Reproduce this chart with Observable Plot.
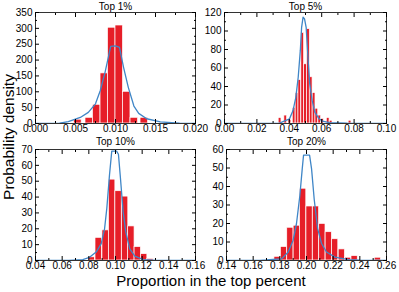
<!DOCTYPE html>
<html><head><meta charset="utf-8">
<script src="https://cdn.jsdelivr.net/npm/d3@7"></script>
<script src="https://cdn.jsdelivr.net/npm/@observablehq/plot@0.6"></script>
<style>
body{margin:0;background:#fff;}
#chart{position:relative;width:399px;height:292px;font-family:"Liberation Sans",Arial,Helvetica,sans-serif;color:#000;overflow:hidden;}
.p{position:absolute;}
.ylab{position:absolute;left:9px;top:137px;transform:translate(-50%,-50%) rotate(-90deg);font-size:15.5px;white-space:nowrap;}
.xlab{position:absolute;left:211px;top:280px;transform:translate(-50%,-50%);font-size:15px;white-space:nowrap;}
</style></head><body><div id="chart"></div>
<script>
// ---- data ----
const titles = ["Top 1%", "Top 5%", "Top 10%", "Top 20%"];
const xAxisLabel = "Proportion in the top percent";
const yAxisLabel = "Probability density";

// Top 1%
const top1Centers = [0.0053, 0.00672, 0.00765, 0.0086, 0.00953, 0.01047, 0.0114, 0.01235, 0.0136];
const top1Heights = [12, 18, 59, 158, 302, 309, 100, 18, 18];
const top1Bin = 0.00094;
const top1KdeX = [0, 0.003, 0.0041, 0.0056, 0.0066, 0.0075, 0.0081, 0.0087, 0.0094, 0.0100, 0.0105, 0.0110, 0.0116, 0.0123, 0.0129, 0.0139, 0.0156, 0.018, 0.02];
const top1KdeY = [0.5, 1, 6, 19, 35, 62, 104, 162, 243, 245, 240, 178, 114, 55, 32, 15, 5, 1, 0.5];
const top1XTicks = [0, 0.005, 0.01, 0.015, 0.02];
const top1XMinor = [0.0025, 0.0075, 0.0125, 0.0175];
const top1YTicks = [0, 50, 100, 150, 200, 250, 300, 350];
const top1YMinor = [25, 75, 125, 175, 225, 275, 325];

// Top 5%
const top5Centers = [0.0343, 0.0378, 0.0404, 0.0430, 0.0448, 0.0465, 0.0483, 0.0500, 0.0518, 0.0535, 0.0553, 0.0570, 0.0588, 0.0605, 0.0640, 0.0658, 0.0775];
const top5Heights = [6, 8.6, 4, 17, 33, 47, 98, 64, 102, 50, 33, 16, 8.6, 5, 6, 3, 3];
const top5Bin = 0.00172;
const top5KdeX = [0, 0.034, 0.0401, 0.0423, 0.044, 0.0455, 0.0468, 0.0476, 0.0485, 0.0494, 0.0504, 0.0515, 0.0526, 0.0541, 0.0558, 0.058, 0.0605, 0.0648, 0.0755, 0.1];
const top5KdeY = [0, 0.5, 5, 14, 28, 50, 79, 104, 115, 113, 104, 72, 43, 25, 12, 6, 2.5, 1, 0.3, 0];
const top5XTicks = [0, 0.02, 0.04, 0.06, 0.08, 0.1];
const top5XMinor = [0.01, 0.03, 0.05, 0.07, 0.09];
const top5YTicks = [0, 20, 40, 60, 80, 100, 120];
const top5YMinor = [10, 30, 50, 70, 90, 110];

// Top 10%
const top10Centers = [0.0822, 0.0874, 0.0926, 0.0975, 0.1023, 0.1072, 0.1119, 0.1167, 0.1215, 0.1262];
const top10Heights = [2, 14.3, 19, 51, 43.7, 40.3, 21.5, 8.5, 4, 1];
const top10Bin = 0.0048;
const top10KdeX = [0.04, 0.065, 0.0755, 0.0805, 0.0855, 0.0893, 0.0918, 0.0935, 0.0955, 0.0972, 0.1008, 0.1022, 0.1037, 0.1057, 0.1077, 0.1107, 0.1145, 0.1207, 0.1307, 0.16];
const top10KdeY = [0, 0.1, 0.6, 2, 5.3, 10.6, 20, 33, 54, 69, 69, 67, 52, 31, 18, 7.4, 2.8, 0.6, 0.1, 0];
const top10XTicks = [0.04, 0.06, 0.08, 0.1, 0.12, 0.14, 0.16];
const top10XMinor = [0.05, 0.07, 0.09, 0.11, 0.13, 0.15];
const top10YTicks = [0, 10, 20, 30, 40, 50, 60, 70];
const top10YMinor = [5, 15, 25, 35, 45, 55, 65];

// Top 20%
const top20Centers = [0.1783, 0.1831, 0.1879, 0.1927, 0.1975, 0.2023, 0.2071, 0.2119, 0.2167, 0.2215, 0.2265, 0.2313, 0.2361, 0.2535];
const top20Heights = [2, 7.3, 17.7, 18.8, 38.8, 29.2, 29.2, 19.8, 15.3, 11.5, 6, 1.5, 2.4, 1.5];
const top20Bin = 0.0047;
const top20KdeX = [0.14, 0.165, 0.17, 0.175, 0.1813, 0.1863, 0.19, 0.1925, 0.195, 0.1968, 0.1978, 0.2023, 0.2038, 0.2058, 0.2083, 0.2113, 0.215, 0.2213, 0.2313, 0.24, 0.26];
const top20KdeY = [0, 0.1, 0.3, 0.6, 0.9, 4.6, 11, 20, 35, 49.5, 57, 57, 49.5, 33, 17.4, 9.2, 4.6, 1.8, 0.5, 0.2, 0];
const top20XTicks = [0.14, 0.16, 0.18, 0.2, 0.22, 0.24, 0.26];
const top20XMinor = [0.15, 0.17, 0.19, 0.21, 0.23, 0.25];
const top20YTicks = [0, 10, 20, 30, 40, 50, 60];
const top20YMinor = [5, 15, 25, 35, 45, 55];

// ---- drawing ----
const FONT = '"Liberation Sans", Arial, Helvetica, sans-serif';
const RED = "#e61e28";
const BLUE = "#3f86c7";
const blank = () => "";

function panel(cfg) {
  const bars = cfg.centers.map((c, i) => ({x1: c - cfg.bin / 2, x2: c + cfg.bin / 2, y: cfg.heights[i]}));
  const kde = cfg.kdeX.map((x, i) => ({x, y: cfg.kdeY[i]}));
  const fmt = d3.format(cfg.fmt);
  const svg = Plot.plot({
    width: cfg.width, height: cfg.height,
    marginLeft: cfg.ml, marginRight: cfg.mr, marginTop: cfg.mt, marginBottom: cfg.mb,
    style: {fontFamily: FONT, fontSize: "10px", background: "transparent", color: "#000", overflow: "visible"},
    x: {domain: cfg.xDomain},
    y: {domain: cfg.yDomain},
    marks: [
      Plot.rectY(bars, {x1: "x1", x2: "x2", y: "y", fill: RED, stroke: "white", strokeWidth: 0.7}),
      Plot.line(kde, {x: "x", y: "y", stroke: BLUE, strokeWidth: 1.3, clip: true}),
      Plot.axisX({ticks: cfg.xMinor, tickSize: -2, tickFormat: blank, label: null}),
      Plot.axisX({anchor: "top", ticks: cfg.xMinor, tickSize: -2, tickFormat: blank, label: null}),
      Plot.axisX({ticks: cfg.xTicks, tickSize: -4, tickFormat: blank, label: null}),
      Plot.axisX({anchor: "top", ticks: cfg.xTicks, tickSize: -4, tickFormat: blank, label: null}),
      Plot.axisX({ticks: cfg.xTicks, tickSize: 0, tickPadding: 1.5, tickFormat: fmt, label: null}),
      Plot.axisY({ticks: cfg.yMinor, tickSize: -2, tickFormat: blank, label: null}),
      Plot.axisY({anchor: "right", ticks: cfg.yMinor, tickSize: -2, tickFormat: blank, label: null}),
      Plot.axisY({ticks: cfg.yTicks, tickSize: -4, tickFormat: blank, label: null}),
      Plot.axisY({anchor: "right", ticks: cfg.yTicks, tickSize: -4, tickFormat: blank, label: null}),
      Plot.axisY({ticks: cfg.yTicks, tickSize: 0, tickPadding: 3, tickFormat: d3.format("d"), label: null}),
      Plot.frame({stroke: "black", strokeWidth: 0.8}),
      Plot.text([cfg.title], {text: d => d, frameAnchor: "top", lineAnchor: "middle", dy: cfg.titleDy, fontSize: 10})
    ]
  });
  const wrap = document.createElement("div");
  wrap.className = "p";
  wrap.style.left = cfg.left + "px";
  wrap.style.top = cfg.top + "px";
  wrap.appendChild(svg);
  return wrap;
}

const chart = document.getElementById("chart");
chart.appendChild(panel({
  title: titles[0], centers: top1Centers, heights: top1Heights, bin: top1Bin,
  kdeX: top1KdeX, kdeY: top1KdeY, xDomain: [0, 0.02], yDomain: [0, 350],
  xTicks: top1XTicks, xMinor: top1XMinor, yTicks: top1YTicks, yMinor: top1YMinor, fmt: ".3f",
  left: 0, top: 0, width: 200, height: 137, ml: 35, mr: 5, mt: 12, mb: 14, titleDy: -6
}));
chart.appendChild(panel({
  title: titles[1], centers: top5Centers, heights: top5Heights, bin: top5Bin,
  kdeX: top5KdeX, kdeY: top5KdeY, xDomain: [0, 0.1], yDomain: [0, 120],
  xTicks: top5XTicks, xMinor: top5XMinor, yTicks: top5YTicks, yMinor: top5YMinor, fmt: ".2f",
  left: 200, top: 0, width: 199, height: 137, ml: 24, mr: 13, mt: 12, mb: 14, titleDy: -6
}));
chart.appendChild(panel({
  title: titles[2], centers: top10Centers, heights: top10Heights, bin: top10Bin,
  kdeX: top10KdeX, kdeY: top10KdeY, xDomain: [0.04, 0.16], yDomain: [0, 70],
  xTicks: top10XTicks, xMinor: top10XMinor, yTicks: top10YTicks, yMinor: top10YMinor, fmt: ".2f",
  left: 0, top: 137, width: 200, height: 137, ml: 35, mr: 5, mt: 12, mb: 14, titleDy: -8
}));
chart.appendChild(panel({
  title: titles[3], centers: top20Centers, heights: top20Heights, bin: top20Bin,
  kdeX: top20KdeX, kdeY: top20KdeY, xDomain: [0.14, 0.26], yDomain: [0, 60],
  xTicks: top20XTicks, xMinor: top20XMinor, yTicks: top20YTicks, yMinor: top20YMinor, fmt: ".2f",
  left: 200, top: 137, width: 199, height: 137, ml: 26, mr: 13, mt: 12, mb: 14, titleDy: -8
}));

const yl = document.createElement("div");
yl.className = "ylab"; yl.textContent = yAxisLabel; chart.appendChild(yl);
const xl = document.createElement("div");
xl.className = "xlab"; xl.textContent = xAxisLabel; chart.appendChild(xl);
</script>
</body></html>
